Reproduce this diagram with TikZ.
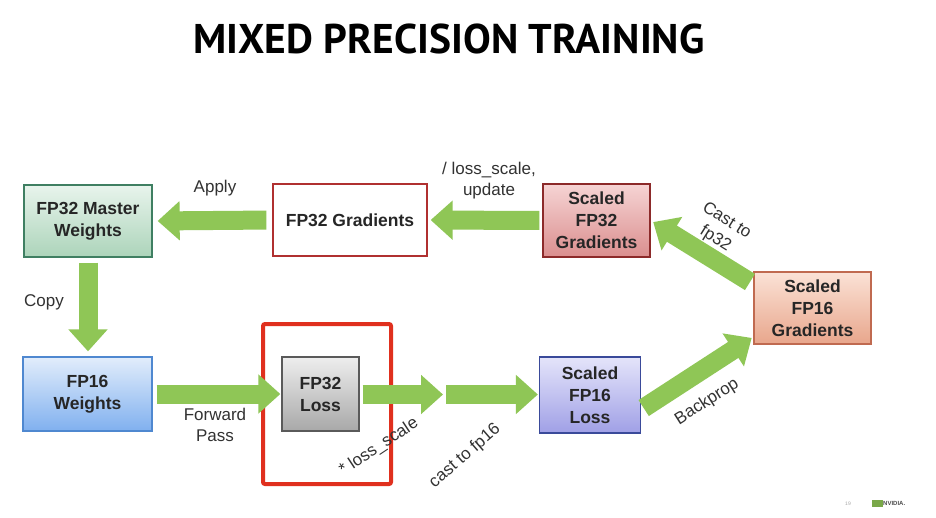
\documentclass[tikz,border=0pt]{standalone}
\usepackage{fontspec}
\setmainfont{Liberation Sans}
\newfontfamily\titlefont{PT Sans}
\usetikzlibrary{arrows.meta}
\definecolor{arrowgreen}{RGB}{143,198,86}
\definecolor{txt}{RGB}{38,38,38}
\definecolor{lbltxt}{RGB}{50,50,50}
\definecolor{hlred}{RGB}{224,48,30}
\begin{document}
\begin{tikzpicture}[x=1pt,y=-1pt,
  box/.style={draw, line width=1.3pt, align=center, inner sep=0pt,
    font=\fontsize{17.5}{22}\selectfont\bfseries, text=txt},
  lbl/.style={font=\fontsize{17}{21}\selectfont, text=lbltxt, align=center, inner sep=0pt},
  garrow/.style={draw=arrowgreen, line width=19pt, line cap=butt,
    -{Triangle[length=22pt,width=38pt]}},
]
\useasboundingbox[fill=white] (0,0) rectangle (936,517);

% title
\node[font=\titlefont\bfseries\fontsize{41.5}{41.5}\selectfont, text=black] (title) at (449,39) {MIXED PRECISION TRAINING};

% boxes
\node[box, minimum width=128pt, minimum height=72pt, draw={rgb,255:red,63;green,127;blue,98},
  top color={rgb,255:red,232;green,244;blue,236}, bottom color={rgb,255:red,172;green,212;blue,186}]
  (master) at (88,221) {FP32 Master\\Weights};
\node[box, minimum width=154pt, minimum height=72pt, draw={rgb,255:red,176;green,48;blue,48}, fill=white]
  (grad) at (350,220) {FP32 Gradients};
\node[box, minimum width=107pt, minimum height=73pt, draw={rgb,255:red,140;green,42;blue,42},
  top color={rgb,255:red,246;green,212;blue,212}, bottom color={rgb,255:red,218;green,142;blue,142}]
  (sfp32) at (596.5,220.5) {Scaled\\FP32\\Gradients};
\node[box, minimum width=117pt, minimum height=72pt, draw={rgb,255:red,192;green,106;blue,80},
  top color={rgb,255:red,251;green,226;blue,214}, bottom color={rgb,255:red,232;green,166;blue,140}]
  (sfp16g) at (812.5,308) {Scaled\\FP16\\Gradients};
\node[box, minimum width=129pt, minimum height=74pt, draw={rgb,255:red,79;green,136;blue,208},
  top color={rgb,255:red,226;green,237;blue,251}, bottom color={rgb,255:red,128;green,176;blue,239}]
  (fp16w) at (87.5,394) {FP16\\Weights};
\node[box, minimum width=77pt, minimum height=74pt, draw={rgb,255:red,90;green,90;blue,90},
  top color={rgb,255:red,238;green,238;blue,238}, bottom color={rgb,255:red,168;green,168;blue,168}]
  (loss) at (320.5,394) {FP32\\Loss};
\node[box, minimum width=101pt, minimum height=76pt, draw={rgb,255:red,58;green,74;blue,154},
  top color={rgb,255:red,228;green,228;blue,250}, bottom color={rgb,255:red,160;green,160;blue,230}]
  (sloss) at (590,395) {Scaled\\FP16\\Loss};

% highlight
\node[draw=hlred, line width=4pt, rounded corners=2pt, minimum width=128pt, minimum height=160pt, inner sep=0pt]
  (hl) at (327,404) {};

% arrows
\coordinate (mid) at (444.5,394.5);
\draw[garrow, shorten <=6pt, shorten >=5pt] (grad.west) -- (master.east);
\draw[garrow, shorten <=3pt, shorten >=3pt] (sfp32.west) -- (grad.east);
\draw[garrow, shorten <=4pt, shorten >=3pt] (sfp16g.158) -- (sfp32.east);
\draw[garrow, shorten <=5pt, shorten >=5pt] (master.south) -- (master.south |- fp16w.north);
\draw[garrow, shorten <=4pt, shorten >=1pt] (fp16w.east) -- (loss.west);
\draw[garrow, shorten <=3pt, shorten >=1.5pt] (loss.east |- mid) -- (mid);
\draw[garrow, shorten <=1.5pt, shorten >=1pt] (mid) -- (mid -| sloss.west);
\draw[garrow, shorten <=3pt, shorten >=2pt] (sloss.-16.5) -- (sfp16g.206.9);

% labels
\node[lbl] (lapply) at (215,188) {Apply};
\node[lbl] (lupdate) at (489,181) {/ loss\_scale,\\update};
\node[lbl, rotate=-32] (lcast32) at (721,230) {Cast to\\fp32};
\node[lbl] (lcopy) at (44,302) {Copy};
\node[lbl] (lfwd) at (215,425) {Forward\\Pass};
\node[lbl, rotate=33.5] (lscale) at (379,447) {* loss\_scale};
\node[lbl, rotate=41] (lcast16) at (465,456) {cast to fp16};
\node[lbl, rotate=32.5] (lback) at (707,402) {Backprop};

% footer
\node[font=\fontsize{5}{5}\selectfont, text=black!35, inner sep=0pt] (pg) at (848,504) {19};
\fill[arrowgreen!85!black] (872,500) rectangle (883,507);
\node[font=\fontsize{6}{6}\selectfont\bfseries, text=black!70, anchor=west, inner sep=0pt] (logo) at (883,503.5) {NVIDIA.};
\end{tikzpicture}
\end{document}
